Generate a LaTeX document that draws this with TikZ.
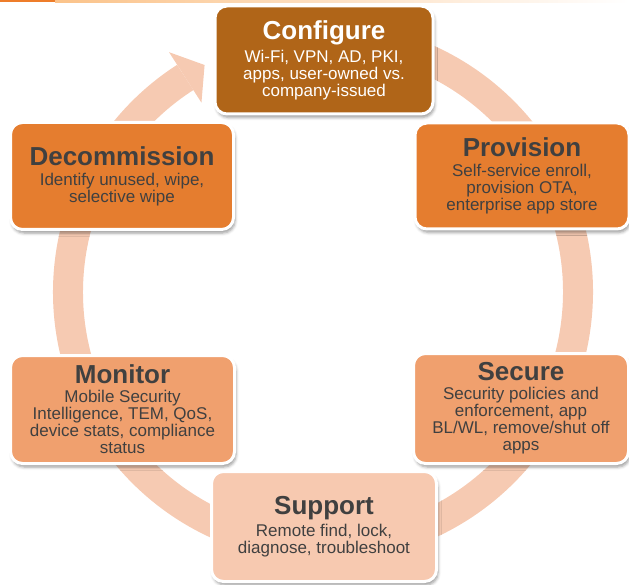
\documentclass[tikz,border=0pt]{standalone}
\usepackage{fontspec}
\setmainfont{Liberation Sans}
\usetikzlibrary{shadows.blur,calc}
\definecolor{ringc}{HTML}{F6CAB2}
\definecolor{cfgc}{HTML}{B06518}
\definecolor{darkor}{HTML}{E57D2F}
\definecolor{midor}{HTML}{F0A06E}
\definecolor{lightor}{HTML}{F7C9B0}
\definecolor{txtc}{HTML}{404040}
\definecolor{topor}{HTML}{EE7D2A}
\definecolor{toplight}{HTML}{FBC38A}
\newcommand\phasetitle[1]{{\fontsize{26}{26}\selectfont\bfseries #1}}
\begin{document}
\begin{tikzpicture}[x=1pt,y=-1pt,
  phase/.style={rounded corners=12pt, draw=white, line width=3pt, align=center,
    inner sep=0pt, text=txtc, font=\fontsize{17}{17}\selectfont,
    blur shadow={shadow xshift=1.5pt, shadow yshift=-3.5pt, shadow blur radius=3pt, shadow opacity=40}},
  ringline/.style={ringc, line width=30pt}]
\useasboundingbox (0,0) rectangle (629,585);
\fill[topor] (0,0) rectangle (55,2.5);
\shade[left color=toplight, right color=white] (55,0) rectangle (629,2.5);
% ring
\coordinate (C) at (323,292);
\draw[ringline] ($(C)+(-85:255)$) arc[start angle=-85, end angle=237.3, radius=255];
\fill[ringc] ($(C)+(237.3:225)$) -- ($(C)+(237.3:285)$) -- ($(C)+(237.3:255)+(327.3:23)$) -- cycle;
% phases
\node[phase, fill=cfgc, text=white, minimum width=218pt, minimum height=108pt] (cfg) at (324,60)
  {\phasetitle{Configure}\\[4pt]Wi-Fi, VPN, AD, PKI,\\apps, user-owned vs.\\company-issued};
\node[phase, fill=darkor, minimum width=214pt, minimum height=106pt] (prov) at (522,176)
  {\phasetitle{Provision}\\[3pt]Self-service enroll,\\provision OTA,\\enterprise app store};
\node[phase, fill=darkor, minimum width=223pt, minimum height=107pt] (decom) at (122,176)
  {\phasetitle{Decommission}\\[3pt]Identify unused, wipe,\\selective wipe};
\node[phase, fill=midor, minimum width=224pt, minimum height=108pt] (mon) at (122.5,409.5)
  {\phasetitle{Monitor}\\[2pt]Mobile Security\\Intelligence, TEM, QoS,\\device stats, compliance\\status};
\node[phase, fill=midor, minimum width=215pt, minimum height=110pt] (sec) at (521,408.5)
  {\phasetitle{Secure}\\[2pt]Security policies and\\enforcement, app\\BL/WL, remove/shut off\\apps};
\node[phase, fill=lightor, minimum width=225pt, minimum height=110pt] (sup) at (324,526.5)
  {\phasetitle{Support}\\[3pt]Remote find, lock,\\diagnose, troubleshoot};
\end{tikzpicture}
\end{document}
